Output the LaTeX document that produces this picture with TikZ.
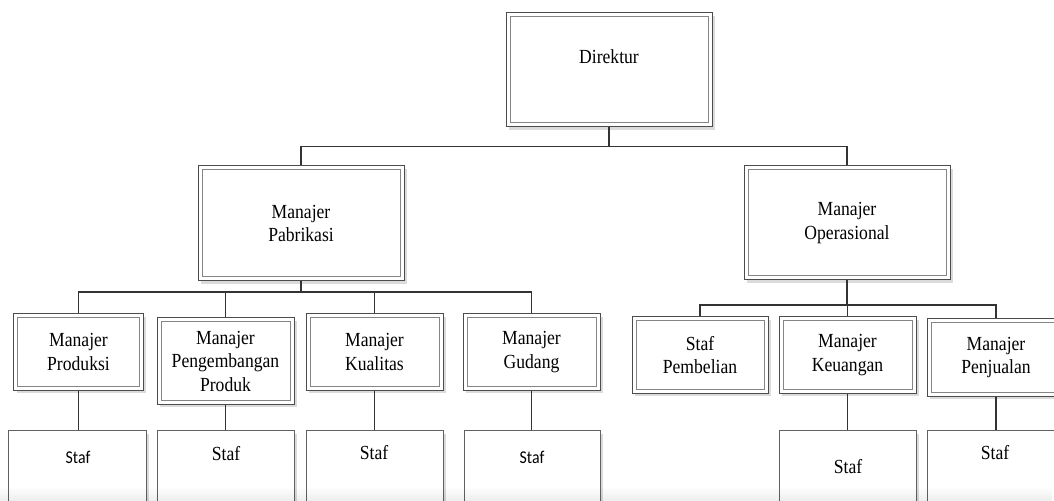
\documentclass[tikz,border=0pt]{standalone}
\usepackage{fontspec}
\setmainfont{Liberation Serif}[FakeStretch=0.88]
\newfontfamily\calfont{Carlito}[FakeStretch=0.88]
\usetikzlibrary{shadows,fadings}

\begin{document}
\begin{tikzpicture}[x=1bp,y=-1bp,
  box/.style={draw=black!70, line width=1bp, fill=white, inner sep=0pt,
    drop shadow={shadow xshift=3bp, shadow yshift=-3bp, fill=black!14, opacity=1}},
  mgr/.style={box, align=center,
    font=\fontsize{20bp}{23.5bp}\selectfont,
    path picture={\draw[black!48, line width=1bp]
      ([shift={(4bp,4bp)}]path picture bounding box.south west) rectangle
      ([shift={(-4bp,-4bp)}]path picture bounding box.north east);}},
  stafbox/.style={box, draw=black!62, anchor=north, minimum height=110bp},
  txt/.style={inner sep=0pt, align=center, font=\fontsize{20bp}{23.5bp}\selectfont},
  sanstxt/.style={inner sep=0pt, font=\calfont\fontsize{18bp}{21bp}\selectfont},
  conn/.style={draw=black!80, line width=1.8bp},
  stafconn/.style={draw=black!80, line width=1.3bp}]

\useasboundingbox (0,0) rectangle (1054,501);
\clip (0,0) rectangle (1054,501);

% top level
\node[mgr, minimum width=206bp, minimum height=114bp] (dir) at (609,70) {};
\node[txt] (dirT) at (609,57) {Direktur};

% second level
\node[mgr, minimum width=206bp, minimum height=115bp] (pab) at (301,223.5) {Manajer\\Pabrikasi};
\node[mgr, minimum width=206bp, minimum height=114bp] (ops) at (847,223) {Manajer\\Operasional};

% managers under Pabrikasi
\node[mgr, minimum width=129bp, minimum height=76bp] (prod) at (78.5,352) {Manajer\\Produksi};
\node[mgr, minimum width=137bp, minimum height=86bp] (peng) at (225.5,361) {Manajer\\Pengembangan\\Produk};
\node[mgr, minimum width=137bp, minimum height=76bp] (kual) at (374.5,352) {Manajer\\Kualitas};
\node[mgr, minimum width=137bp, minimum height=76bp] (gud) at (531.5,352) {Manajer\\Gudang};

% units under Operasional
\node[mgr, minimum width=136bp, minimum height=76bp] (pemb) at (700,355) {Staf\\Pembelian};
\node[mgr, minimum width=137bp, minimum height=76bp] (keu) at (847.5,355) {Manajer\\Keuangan};
\node[mgr, minimum width=138bp, minimum height=77bp] (penj) at (996,357.5) {Manajer\\Penjualan};

% staff boxes
\node[stafbox, minimum width=137bp] (s1) at (77.5,430) {};
\node[stafbox, minimum width=137bp] (s2) at (225.5,430) {};
\node[stafbox, minimum width=137bp] (s3) at (374.5,430) {};
\node[stafbox, minimum width=136bp] (s4) at (532,430) {};
\node[stafbox, minimum width=137bp] (s5) at (847.5,430) {};
\node[stafbox, minimum width=138bp] (s6) at (996,430) {};

\node[sanstxt] (s1T) at (78,457) {Staf};
\node[txt] (s2T) at (226,454) {Staf};
\node[txt] (s3T) at (374,453) {Staf};
\node[sanstxt] (s4T) at (532,457) {Staf};
\node[txt] (s5T) at (848,467) {Staf};
\node[txt] (s6T) at (995,453) {Staf};

% buses
\coordinate (b0) at (609,146.5);
\coordinate (b1) at (301,292);
\coordinate (b2) at (847,305);

\draw[conn] (dir.south) -- (b0);
\draw[conn] (pab.north) |- (b0) -| (ops.north);

\draw[conn] (pab.south) -- (b1);
\draw[conn] (prod.north) |- (b1) -| (gud.north);
\draw[conn] (peng.north) -- (peng.north |- b1);
\draw[conn] (kual.north) -- (kual.north |- b1);

\draw[conn] (ops.south) -- (b2);
\draw[conn] (pemb.north) |- (b2) -| (penj.north);
\draw[conn] (keu.north) -- (keu.north |- b2);

% links to staff
\draw[stafconn] (prod.south) -- (prod.south |- s1.north);
\draw[stafconn] (peng.south) -- (peng.south |- s2.north);
\draw[stafconn] (kual.south) -- (kual.south |- s3.north);
\draw[stafconn] (gud.south) -- (gud.south |- s4.north);
\draw[stafconn] (keu.south) -- (keu.south |- s5.north);
\draw[stafconn] (penj.south) -- (penj.south |- s6.north);

% faint shading along the lower edge
\fill[black, opacity=0.07, path fading=north] (0,486) rectangle (1054,501);
\end{tikzpicture}
\end{document}
